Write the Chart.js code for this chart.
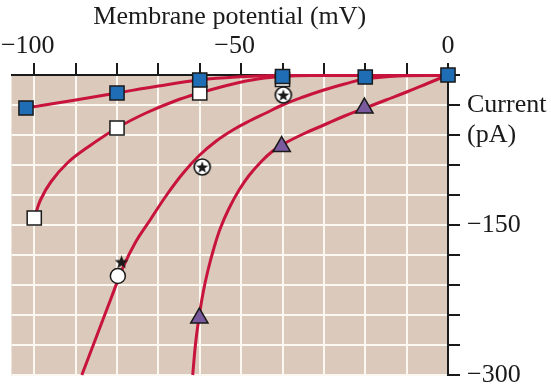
<!DOCTYPE html>
<html><head><meta charset="utf-8">
<script src="https://cdn.jsdelivr.net/npm/chart.js@4.4.0/dist/chart.umd.min.js"></script>
<style>html,body{margin:0;padding:0;background:#fff;}#wrap{width:551px;height:387px;}</style>
</head><body><div id="wrap"><canvas id="c" width="551" height="387"></canvas></div>
<script>
// ---- tick data ----
const xGridValues = [-100, -90, -80, -70, -60, -50, -40, -30, -20, -10, 0];
const xTickValues = [-100, -50, 0];
const xTickText = ['−100', '−50', '0'];
const yGridValues = [0, -30, -60, -90, -120, -150, -180, -210, -240, -270, -300];
const yTickValues = [-30, -60, -150, -300];
const yTickText = ['Current', '(pA)', '−150', '−300'];

// ---- fitted curves ----
const curveA_V = [-102, -90, -80, -70, -60, -50, -42, -30, -15, 0];
const curveA_I = [-33, -25, -18, -11, -5, -1.8, -0.6, -0.5, -0.5, -0.5];
const curveB_V = [-100, -98.5, -96, -92, -87, -80, -73, -66, -60, -53, -46, -38, -30];
const curveB_I = [-143, -125, -107, -88, -72, -53, -38, -26, -18, -10, -4, -1, -0.5];
const curveC_V = [-88.5, -85, -81.5, -78.5, -75.5, -72, -68, -64, -60, -56, -52, -48, -44, -40, -35, -30, -25, -20, -12, 0];
const curveC_I = [-300, -262, -224, -192, -167, -145, -120, -98, -80, -66, -55, -46, -38, -30, -22, -15, -9, -4, -1, -0.5];
const curveD_V = [-61.7, -61, -60.2, -59.2, -58, -56.5, -55, -53, -50.5, -48, -45, -42.5, -40, -35, -30, -25, -20, -15, -10, -5, 0];
const curveD_I = [-300, -268, -243, -218, -195, -172, -153, -134, -115, -100, -86, -76.5, -69.5, -59, -50, -41, -33, -25, -17, -8.5, 0];

// ---- measured points ----
const blueSq_V = [-102, -80, -60, -40, -20, 0];
const blueSq_I = [-33, -18, -5, -1.5, -2, 0];
const whiteSq_V = [-100, -80, -60, -40];
const whiteSq_I = [-143, -53, -18, -4.5];
const starCirc_V = [-59.4, -39.8];
const starCirc_I = [-92, -20];
const star_V = [-78.9];
const star_I = [-187];
const whiteCirc_V = [-79.8];
const whiteCirc_I = [-201];
const tri_V = [-60.1, -40.2, -20.2];
const tri_I = [-243, -71.5, -33];

const RED = '#c8143c', BLUE = '#1f6db4', PURPLE = '#7a5a9e', TAN = '#dbcabb', INK = '#1a1a1a', GRID = '#fbf7f1';
const FONT = {family: '"Liberation Serif", "Times New Roman", serif', size: 26};

const toPts = (xs, ys) => xs.map((x, i) => ({x: x, y: ys[i]}));

function starPath(ctx, cx, cy, R, r) {
  ctx.beginPath();
  for (let k = 0; k < 10; k++) {
    const a = -Math.PI / 2 + k * Math.PI / 5;
    const rr = (k % 2) ? r : R;
    ctx.lineTo(cx + rr * Math.cos(a), cy + rr * Math.sin(a));
  }
  ctx.closePath();
}
const starCircle = document.createElement('canvas');
starCircle.width = 20; starCircle.height = 20;
(function () {
  const g = starCircle.getContext('2d');
  g.beginPath(); g.arc(10, 10, 8, 0, Math.PI * 2);
  g.fillStyle = '#fff'; g.fill(); g.lineWidth = 1.7; g.strokeStyle = INK; g.stroke();
  starPath(g, 10, 10.6, 6.3, 2.6); g.fillStyle = INK; g.fill();
})();
const blackStar = document.createElement('canvas');
blackStar.width = 17; blackStar.height = 17;
(function () {
  const g = blackStar.getContext('2d');
  starPath(g, 8.5, 9, 7.2, 3); g.fillStyle = INK; g.fill();
})();

function lineDs(xs, ys) {
  return {data: toPts(xs, ys), showLine: true, borderColor: RED, borderWidth: 3,
    pointRadius: 0, pointHoverRadius: 0, tension: 0.4, fill: false, clip: false, order: 20};
}
function markDs(xs, ys, style, radius, bg, order) {
  return {data: toPts(xs, ys), showLine: false, pointStyle: style, pointRadius: radius, pointHoverRadius: radius,
    pointBackgroundColor: bg, pointBorderColor: INK, pointBorderWidth: 1.5, clip: false, order: order};
}

const bgPlugin = {
  id: 'bg',
  beforeDraw(chart) {
    const {ctx, chartArea: a} = chart;
    ctx.save(); ctx.fillStyle = TAN;
    ctx.fillRect(a.left, a.top, a.right - a.left, a.bottom - a.top + 1);
    ctx.restore();
  }
};

new Chart(document.getElementById('c'), {
  type: 'scatter',
  data: {
    datasets: [
      lineDs(curveA_V, curveA_I),
      lineDs(curveB_V, curveB_I),
      lineDs(curveC_V, curveC_I),
      lineDs(curveD_V, curveD_I),
      markDs(blueSq_V, blueSq_I, 'rect', 10, BLUE, 1),
      markDs(whiteSq_V, whiteSq_I, 'rect', 10, '#ffffff', 2),
      markDs(tri_V, tri_I, 'triangle', 10, PURPLE, 1),
      markDs(whiteCirc_V, whiteCirc_I, 'circle', 7.5, '#ffffff', 3),
      markDs(star_V, star_I, blackStar, 7, INK, 2),
      markDs(starCirc_V, starCirc_I, starCircle, 8, '#ffffff', 1)
    ]
  },
  options: {
    responsive: false, animation: false, devicePixelRatio: 1, events: [],
    layout: {padding: {left: 7, right: 0, top: 0, bottom: 12}},
    plugins: {legend: {display: false}, tooltip: {enabled: false}},
    scales: {
      x: {
        type: 'linear', position: 'top', min: -105.5, max: 0,
        afterBuildTicks: (s) => { s.ticks = xGridValues.map(v => ({value: v})); },
        afterFit: (s) => { s.height = 75; s.paddingLeft = 0; s.paddingRight = 0; },
        grid: {color: GRID, lineWidth: 2, tickColor: INK, tickWidth: 2, tickLength: 12, drawTicks: true},
        border: {display: true, color: INK, width: 2},
        ticks: {
          autoSkip: false, maxRotation: 0, padding: 1, color: INK, font: FONT,
          callback: (v) => { const i = xTickValues.indexOf(v); if (i < 0) return ''; const t = xTickText[i]; return t.startsWith('−') ? t + '\u2002' : t; }
        },
        title: {display: true, text: 'Membrane potential (mV)', color: INK, font: FONT, padding: {top: 2, bottom: 0}}
      },
      y: {
        type: 'linear', position: 'right', min: -300, max: 0,
        afterBuildTicks: (s) => { s.ticks = yGridValues.map(v => ({value: v})); },
        afterFit: (s) => { s.width = 103; s.paddingTop = 0; s.paddingBottom = 0; },
        grid: {color: GRID, lineWidth: 2, tickColor: INK, tickWidth: 2, tickLength: 12, drawTicks: true},
        border: {display: true, color: INK, width: 2},
        ticks: {
          autoSkip: false, padding: 7, color: INK, font: FONT,
          callback: (v) => { const i = yTickValues.indexOf(v); return i < 0 ? '' : yTickText[i]; }
        }
      }
    }
  },
  plugins: [bgPlugin]
});
</script>
</body></html>
